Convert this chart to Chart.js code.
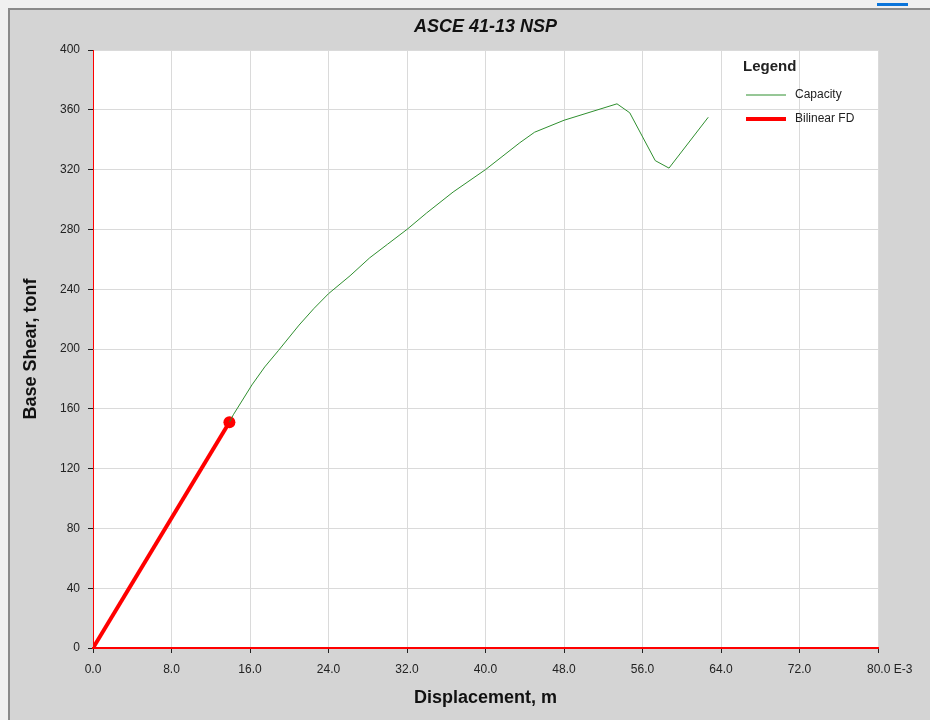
<!DOCTYPE html>
<html>
<head>
<meta charset="utf-8">
<script src="https://cdn.jsdelivr.net/npm/chart.js@4.4.1/dist/chart.umd.min.js"></script>
<style>
  html, body { margin: 0; padding: 0; background: #f0f0f0; }
  #panel { position: absolute; left: 8px; top: 8px; width: 930px; height: 720px;
           background: #d4d4d4; border-top: 2px solid #8a8a8a; border-left: 2px solid #8a8a8a; }
  #mark { position: absolute; left: 877px; top: 3px; width: 31px; height: 3px; background: #0a74da; }
  #wrap { position: absolute; left: 0; top: 0; width: 930px; height: 720px; }
</style>
</head>
<body>
<div id="panel"></div>
<div id="mark"></div>
<div id="wrap"><canvas id="grafico" width="930" height="720"></canvas></div>
<script>
// datos (desplazamiento en E-3 m, cortante en tonf)
const capacidadX = [13.9, 14.3, 16.2, 17.5, 18.9, 21.0, 22.5, 24.0, 26.2, 28.2, 30.0, 32.0, 34.0, 36.7, 40.0, 43.5, 45.0, 48.0, 53.4, 54.7, 57.3, 58.7, 62.7];
const capacidadY = [151, 156, 176, 188, 199, 216, 227, 237, 249, 261, 270, 280, 291, 305, 320, 338, 345, 353, 364, 358, 326, 321, 355];
const bilinealX = [0, 13.9];
const bilinealY = [0, 151];
const ticksY = [0, 40, 80, 120, 160, 200, 240, 280, 320, 360, 400];
const ticksX = [0, 8, 16, 24, 32, 40, 48, 56, 64, 72, 80];

function puntos(xs, ys) {
  return xs.map((x, i) => ({ x: x, y: ys[i] }));
}

// fondo blanco del area de trazado + titulo + leyenda
const decorado = {
  id: 'decorado',
  beforeDraw(chart) {
    const ctx = chart.ctx, a = chart.chartArea;
    ctx.save();
    ctx.fillStyle = '#ffffff';
    ctx.fillRect(a.left, a.top, a.right - a.left, a.bottom - a.top);
    ctx.restore();
  },
  afterDraw(chart) {
    const ctx = chart.ctx, a = chart.chartArea;
    ctx.save();
    ctx.fillStyle = '#111';
    ctx.font = 'italic bold 18px "Liberation Sans", Arial';
    ctx.textAlign = 'center';
    ctx.textBaseline = 'middle';
    ctx.fillText('ASCE 41-13 NSP', (a.left + a.right) / 2, 27);

    ctx.textAlign = 'left';
    ctx.font = 'bold 15px "Liberation Sans", Arial';
    ctx.fillStyle = '#222';
    ctx.fillText('Legend', 743, 67);
    let y = 95;
    chart.data.datasets.forEach(ds => {
      ctx.strokeStyle = ds.borderColor;
      ctx.lineWidth = ds.borderWidth;
      ctx.beginPath();
      ctx.moveTo(746, y);
      ctx.lineTo(786, y);
      ctx.stroke();
      ctx.font = '12px "Liberation Sans", Arial';
      ctx.fillStyle = '#222';
      ctx.fillText(ds.label, 795, y);
      y += 24;
    });
    ctx.restore();
  }
};

var ctx = document.getElementById('grafico').getContext('2d');
var miGrafico = new Chart(ctx, {
  type: 'line',
  data: {
    datasets: [
      {
        label: 'Capacity',
        data: puntos(capacidadX, capacidadY),
        borderColor: '#2f8f2f',
        borderWidth: 1,
        pointRadius: 0,
        tension: 0
      },
      {
        label: 'Bilinear FD',
        data: puntos(bilinealX, bilinealY),
        borderColor: '#ff0000',
        backgroundColor: '#ff0000',
        borderWidth: 4,
        pointRadius: [0, 6],
        pointBorderWidth: 0,
        tension: 0
      }
    ]
  },
  options: {
    responsive: false,
    animation: false,
    layout: { padding: { left: 10, right: 52, top: 50, bottom: 0 } },
    plugins: { legend: { display: false }, tooltip: { enabled: false } },
    scales: {
      x: {
        type: 'linear',
        min: 0, max: 80,
        afterBuildTicks(scale) { scale.ticks = ticksX.map(v => ({ value: v })); },
        afterFit(scale) { scale.height = 72; },
        ticks: {
          color: '#222',
          font: { size: 12, family: '"Liberation Sans", Arial' },
          padding: 9,
          maxRotation: 0,
          autoSkip: false,
          callback: v => v === 80 ? '\u00a0\u00a0\u00a0\u00a0\u00a0\u00a0\u00a080.0 E-3' : v.toFixed(1)
        },
        grid: { color: '#dadada', tickColor: '#222', tickLength: 5 },
        border: { color: '#ff0000', width: 2 },
        title: {
          display: true, text: 'Displacement, m', color: '#111',
          font: { size: 18, weight: 'bold', family: '"Liberation Sans", Arial' },
          padding: { top: 6, bottom: 11 }
        }
      },
      y: {
        type: 'linear',
        min: 0, max: 400,
        afterBuildTicks(scale) { scale.ticks = ticksY.map(v => ({ value: v })); },
        afterFit(scale) { scale.width = 83; },
        ticks: {
          color: '#222',
          font: { size: 12, family: '"Liberation Sans", Arial' },
          padding: 8
        },
        grid: { color: '#dadada', tickColor: '#222', tickLength: 5 },
        border: { color: '#ff0000', width: 1 },
        title: {
          display: true, text: 'Base Shear, tonf', color: '#111',
          font: { size: 18, weight: 'bold', family: '"Liberation Sans", Arial' },
          padding: { top: 10, bottom: 0 }
        }
      }
    }
  },
  plugins: [decorado]
});
</script>
</body>
</html>
